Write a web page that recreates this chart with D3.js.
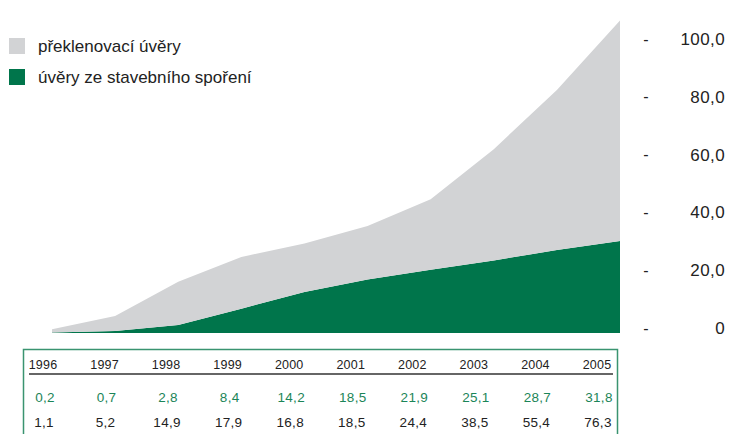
<!DOCTYPE html>
<html>
<head>
<meta charset="utf-8">
<script src="https://cdn.jsdelivr.net/npm/d3@7/dist/d3.min.js"></script>
<style>
  html, body { margin: 0; padding: 0; background: #fff; }
  svg { display: block; font-family: "Liberation Sans", Arial, sans-serif; }
</style>
</head>
<body>
<svg id="chart" width="729" height="434"></svg>
<script>
// Loans by year (bn CZK)
const years = ["1996", "1997", "1998", "1999", "2000", "2001", "2002", "2003", "2004", "2005"];
const savingsLoans = [0.2, 0.7, 2.8, 8.4, 14.2, 18.5, 21.9, 25.1, 28.7, 31.8];   // úvěry ze stavebního spoření
const bridgingLoans = [1.1, 5.2, 14.9, 17.9, 16.8, 18.5, 24.4, 38.5, 55.4, 76.3]; // překlenovací úvěry
const yTicks = [0, 20, 40, 60, 80, 100];
const seriesNames = ["překlenovací úvěry", "úvěry ze stavebního spoření"];

const GREEN = "#00754b";
const GREY = "#d2d3d5";
const TABLE_GREEN = "#1b8558";
const BORDER_GREEN = "#3a9470";
const INK = "#222";

const fmt = v => v.toFixed(1).replace(".", ",");

const svg = d3.select("#chart");

const rows = years.map((y, i) => ({ year: y, savings: savingsLoans[i], bridging: bridgingLoans[i] }));
const stacked = d3.stack().keys(["savings", "bridging"])(rows);

const x = d3.scalePoint().domain(years).range([52, 620]);
const y = d3.scaleLinear().domain([0, 100]).range([333, 44]);

const area = d3.area()
  .x(d => x(d.data.year))
  .y0(d => y(d[0]))
  .y1(d => y(d[1]));

// Stacked areas: savings loans on the bottom, bridging loans on top
svg.append("g").selectAll("path")
  .data(stacked)
  .join("path")
  .attr("d", area)
  .attr("fill", (d, i) => i === 0 ? GREEN : GREY);

// Right-hand value axis: a dash and the label for each tick
const axis = svg.append("g");
axis.selectAll("text.dash")
  .data(yTicks)
  .join("text")
  .attr("class", "dash")
  .attr("x", 646)
  .attr("y", d => y(d) - 5)
  .attr("dy", "0.35em")
  .attr("text-anchor", "middle")
  .attr("font-size", 16)
  .attr("fill", INK)
  .text("-");
axis.selectAll("text.lab")
  .data(yTicks)
  .join("text")
  .attr("class", "lab")
  .attr("x", 725)
  .attr("y", d => y(d) - 5)
  .attr("dy", "0.35em")
  .attr("text-anchor", "end")
  .attr("font-size", 17)
  .attr("letter-spacing", 0.4)
  .attr("fill", INK)
  .text(d => d === 0 ? "0" : fmt(d));

// Legend
const legend = svg.append("g");
const legendColors = [GREY, GREEN];
seriesNames.forEach((name, i) => {
  const yy = 38 + i * 31;
  legend.append("rect")
    .attr("x", 9).attr("y", yy)
    .attr("width", 16).attr("height", 16)
    .attr("fill", legendColors[i]);
  legend.append("text")
    .attr("x", 38).attr("y", yy + 8)
    .attr("dy", "0.35em")
    .attr("font-size", 17)
    .attr("fill", INK)
    .text(name);
});

// Data table under the chart
const tx = d3.scalePoint().domain(years).range([43, 597]);
const table = svg.append("g");
table.append("path")
  .attr("d", "M23.5,440 V349.5 H617.5 V440")
  .attr("fill", "none")
  .attr("stroke", BORDER_GREEN)
  .attr("stroke-width", 1.5);
table.append("line")
  .attr("x1", 29).attr("x2", 613)
  .attr("y1", 374).attr("y2", 374)
  .attr("stroke", "#333")
  .attr("stroke-width", 1.3);

table.selectAll("text.year")
  .data(years)
  .join("text")
  .attr("class", "year")
  .attr("x", d => tx(d))
  .attr("y", 365)
  .attr("dy", "0.35em")
  .attr("text-anchor", "middle")
  .attr("font-size", 12.5)
  .attr("letter-spacing", 0.2)
  .attr("fill", INK)
  .text(d => d);

table.selectAll("text.sav")
  .data(rows)
  .join("text")
  .attr("class", "sav")
  .attr("x", d => tx(d.year) + 2)
  .attr("y", 397)
  .attr("dy", "0.35em")
  .attr("text-anchor", "middle")
  .attr("font-size", 13.5)
  .attr("letter-spacing", 0.3)
  .attr("fill", TABLE_GREEN)
  .text(d => fmt(d.savings));

table.selectAll("text.bri")
  .data(rows)
  .join("text")
  .attr("class", "bri")
  .attr("x", d => tx(d.year) + 1)
  .attr("y", 422)
  .attr("dy", "0.35em")
  .attr("text-anchor", "middle")
  .attr("font-size", 13.5)
  .attr("letter-spacing", 0.3)
  .attr("fill", INK)
  .text(d => fmt(d.bridging));
</script>
</body>
</html>
